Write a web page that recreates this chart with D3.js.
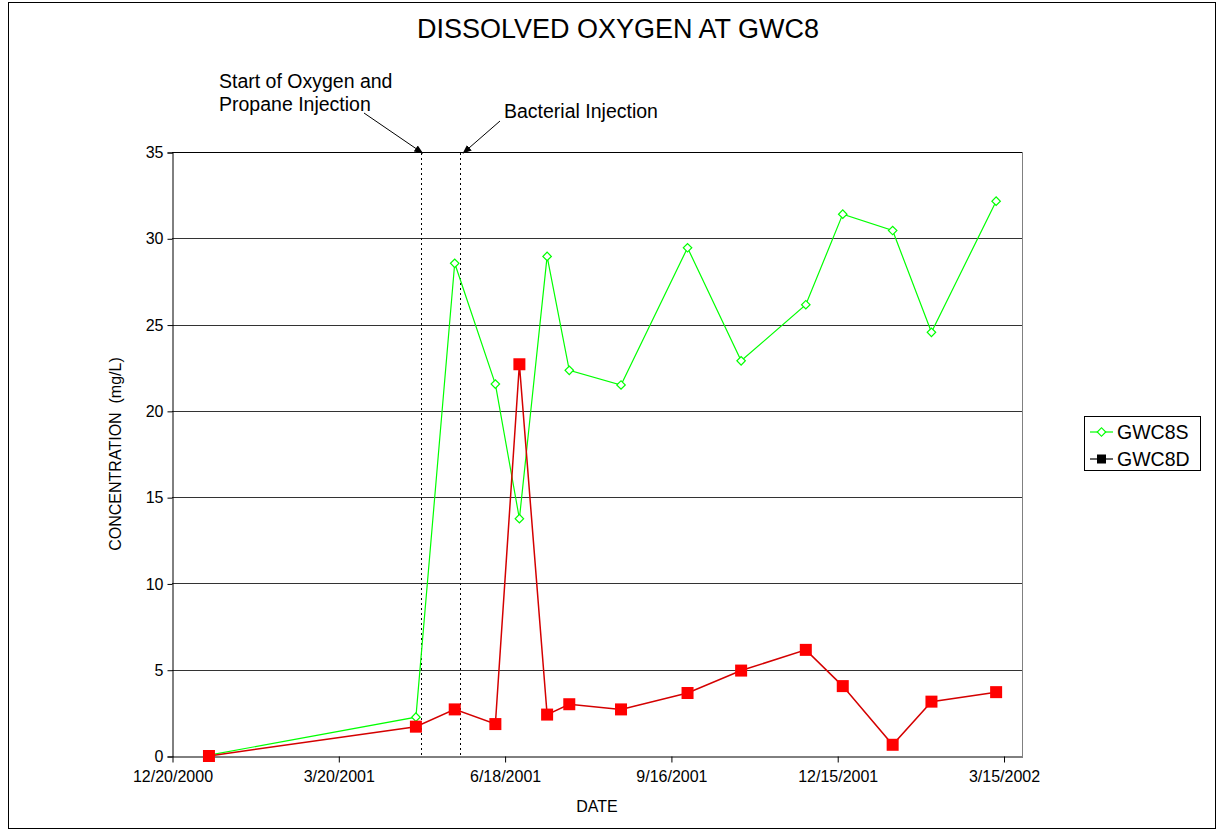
<!DOCTYPE html>
<html><head><meta charset="utf-8">
<script src="https://cdn.jsdelivr.net/npm/d3@7"></script>
<style>body{margin:0;background:#fff}svg{display:block;font-family:"Liberation Sans",Arial,sans-serif}</style>
</head><body>
<svg id="c" width="1222" height="831"></svg>
<script>
const dates = ["2001-01-09","2001-05-01","2001-05-22","2001-06-13","2001-06-26","2001-07-11","2001-07-23","2001-08-20","2001-09-25","2001-10-24","2001-11-28","2001-12-18","2002-01-14","2002-02-04","2002-03-11"];
const gwc8s = [0.05,2.25,28.55,21.55,13.75,28.95,22.35,21.5,29.45,22.9,26.15,31.4,30.45,24.55,32.15];
const gwc8d = [0.0,1.7,2.7,1.85,22.7,2.4,3.0,2.7,3.65,4.95,6.15,4.05,0.65,3.15,3.7];
const xTickDates = ["2000-12-20","2001-03-20","2001-06-18","2001-09-16","2001-12-15","2002-03-15"];
const yTicks = [0,5,10,15,20,25,30,35];
const eventDates = ["2001-05-04","2001-05-25"];
const eventLabels = [["Start of Oxygen and","Propane Injection"],["Bacterial Injection"]];
const seriesNames = ["GWC8S","GWC8D"];

const P = d3.utcParse("%Y-%m-%d");
const fmt = d => `${d.getUTCMonth()+1}/${d.getUTCDate()}/${d.getUTCFullYear()}`;
const svg = d3.select("#c");
const x = d3.scaleUtc().domain([P("2000-12-20"), P("2002-03-25")]).range([172,1022]);
const y = d3.scaleLinear().domain([0,35]).range([756,152]);

// outer frame
svg.append("rect").attr("x",8.5).attr("y",2.5).attr("width",1207).attr("height",826).attr("fill","none").attr("stroke","#000").attr("stroke-width",1);

// title
svg.append("text").attr("x",618).attr("y",38).attr("text-anchor","middle").attr("font-size",27).text("DISSOLVED OXYGEN AT GWC8");

// gridlines
svg.append("g").selectAll("line").data(yTicks.filter(v=>v>0)).join("line")
  .attr("x1",172).attr("x2",1022).attr("y1",d=>Math.round(y(d))+0.5).attr("y2",d=>Math.round(y(d))+0.5)
  .attr("stroke",d=>d===35?"#000":"#333").attr("stroke-width",1);
// right border
svg.append("line").attr("x1",1022.5).attr("x2",1022.5).attr("y1",152).attr("y2",756).attr("stroke","#808080");

// axes
const yAxis = d3.axisLeft(y).tickValues(yTicks).tickSize(5).tickPadding(4);
const gy = svg.append("g").attr("transform","translate(172.5,0.5)").call(yAxis);
gy.select(".domain").attr("stroke","#000");
gy.selectAll("text").attr("font-size",16).attr("font-family","Liberation Sans, Arial").attr("fill","#000");
const xAxis = d3.axisBottom(x).tickValues(xTickDates.map(P)).tickFormat(fmt).tickSize(6).tickSizeOuter(0).tickPadding(8);
const gx = svg.append("g").attr("transform","translate(0.5,756.5)").call(xAxis);
gx.selectAll("text").attr("font-size",16).attr("font-family","Liberation Sans, Arial").attr("fill","#000");

// axis titles
svg.append("text").attr("x",597).attr("y",812).attr("text-anchor","middle").attr("font-size",16).text("DATE");
svg.append("text").attr("transform","translate(121,454) rotate(-90)").attr("text-anchor","middle").attr("font-size",16).attr("xml:space","preserve").text("CONCENTRATION  (mg/L)");

// event lines
svg.append("g").selectAll("line").data(eventDates).join("line")
  .attr("x1",d=>Math.round(x(P(d)))+0.5).attr("x2",d=>Math.round(x(P(d)))+0.5).attr("y1",153).attr("y2",756)
  .attr("stroke","#000").attr("stroke-dasharray","2,3");

// arrows
svg.append("defs").append("marker").attr("id","ah").attr("viewBox","0 0 10 10").attr("refX",9).attr("refY",5)
  .attr("markerWidth",9).attr("markerHeight",9).attr("orient","auto").attr("markerUnits","userSpaceOnUse")
  .append("path").attr("d","M0,1 L10,5 L0,9 Z").attr("fill","#000");
const arrowStarts = [[364,113],[500,121]];
eventDates.forEach((d,i)=>{
  svg.append("line").attr("x1",arrowStarts[i][0]).attr("y1",arrowStarts[i][1])
    .attr("x2",x(P(d))+(i===0?1:3)).attr("y2",153).attr("stroke","#000").attr("stroke-width",1).attr("marker-end","url(#ah)");
});
const labelPos = [[219,88],[504,118]];
eventLabels.forEach((lines,i)=>{
  lines.forEach((t,j)=>{
    svg.append("text").attr("x",labelPos[i][0]).attr("y",labelPos[i][1]+j*23).attr("font-size",19.5).text(t);
  });
});

// series
const ptsS = dates.map((d,i)=>[x(P(d)), y(gwc8s[i])]);
const ptsD = dates.map((d,i)=>[x(P(d)), y(gwc8d[i])]);
const line = d3.line();
svg.append("path").attr("d",line(ptsS)).attr("fill","none").attr("stroke","#00ff00").attr("stroke-width",1.2);
svg.append("path").attr("d",line(ptsD)).attr("fill","none").attr("stroke","#d40000").attr("stroke-width",1.5);
const dia = d3.symbol().type(d3.symbolSquare).size(36);
svg.append("g").selectAll("path").data(ptsS).join("path")
  .attr("transform",d=>`translate(${d[0]},${d[1]}) rotate(45)`).attr("d",dia()).attr("fill","#fff").attr("stroke","#00ff00").attr("stroke-width",1.2);
svg.append("g").selectAll("rect").data(ptsD).join("rect")
  .attr("x",d=>d[0]-6).attr("y",d=>d[1]-6).attr("width",12).attr("height",12).attr("fill","#ff0000");

// legend
const lg = svg.append("g");
lg.append("rect").attr("x",1084.5).attr("y",416.5).attr("width",116).attr("height",54).attr("fill","#fff").attr("stroke","#000");
seriesNames.forEach((n,i)=>{
  const yy = 432 + i*27;
  lg.append("line").attr("x1",1090).attr("x2",1113).attr("y1",yy).attr("y2",yy).attr("stroke",i===0?"#00ff00":"#000").attr("stroke-width",1.2);
  if(i===0) lg.append("path").attr("transform",`translate(1101.5,${yy}) rotate(45)`).attr("d",dia()).attr("fill","#fff").attr("stroke","#00ff00").attr("stroke-width",1.2);
  else lg.append("rect").attr("x",1097).attr("y",yy-4.5).attr("width",9).attr("height",9).attr("fill","#000");
  lg.append("text").attr("x",1117).attr("y",yy+7).attr("font-size",19.5).text(n);
});
</script>
</body></html>
